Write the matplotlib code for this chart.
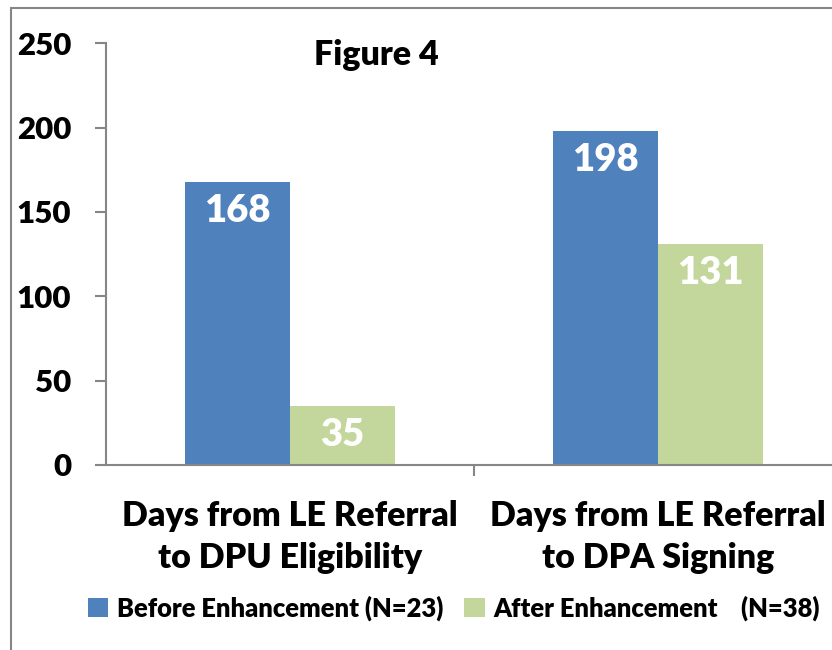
import matplotlib.pyplot as plt
import numpy as np
from matplotlib.patches import Rectangle

# --------------------------------
# Data
# --------------------------------
categories = ["Days from LE Referral\nto DPU Eligibility",
              "Days from LE Referral\nto DPA Signing"]
before = [168, 198]
after = [35, 131]
before_label = "Before Enhancement (N=23)"
after_label = "After Enhancement    (N=38)"
title = "Figure 4"

blue = "#4F81BD"
green = "#C3D69B"
gray = "#868686"

plt.rcParams["font.family"] = ["Lato", "DejaVu Sans"]
plt.rcParams["font.weight"] = "heavy"

W, H = 832, 650
fig = plt.figure(figsize=(W / 100, H / 100), dpi=100)

# axes box in pixels: left 106, bottom 465, top 43, right 842 (cropped)
ax = fig.add_axes([106 / W, (H - 465) / H, (842 - 106) / W, (465 - 43.3) / H])

x = np.arange(len(categories))
bw = 0.285
b1 = ax.bar(x - bw / 2, before, bw, color=blue, label=before_label)
b2 = ax.bar(x + bw / 2, after, bw, color=green, label=after_label)

for bars, vals in ((b1, before), (b2, after)):
    for r, v in zip(bars, vals):
        ax.annotate(str(v), (r.get_x() + r.get_width() / 2, v),
                    xytext=(0, -12), textcoords="offset pixels",
                    ha="center", va="top", color="white",
                    fontsize=27.5, fontweight="heavy")

ax.set_xlim(-0.5, 1.5)
ax.set_ylim(0, 250)
ax.set_yticks(range(0, 251, 50))
ax.tick_params(axis="y", length=8, width=1.5, color=gray, pad=17,
               labelsize=22.5)
for lab in ax.get_yticklabels():
    lab.set_fontweight("heavy")
ax.set_xticks([0.5])
ax.set_xticklabels([""])
ax.tick_params(axis="x", length=8, width=1.5, color=gray)

for s in ("top", "right"):
    ax.spines[s].set_visible(False)
for s in ("left", "bottom"):
    ax.spines[s].set_color(gray)
    ax.spines[s].set_linewidth(1.5)

for i, c in enumerate(categories):
    cx = ax.transData.transform((i, 0))[0] / W
    fig.text(cx, 1 - 537 / H, c, ha="center", va="center", fontsize=24.5,
             fontweight="heavy", linespacing=1.42)

fig.text(376 / W, 1 - 55 / H, title, ha="center", va="center",
         fontsize=24.5, fontweight="heavy")

fig.legend(loc="center", bbox_to_anchor=(454 / W, 1 - 608 / H), ncol=2,
           frameon=False, handlelength=0.8, handleheight=0.8,
           handletextpad=0.35, columnspacing=0.8,
           prop={"size": 18.4, "weight": "heavy"})

# outer frame (cropped on right and bottom)
fig.patches.append(Rectangle((11 / W, -0.1), 1.2, 1 - 8 / H + 0.1,
                             transform=fig.transFigure, fill=False,
                             edgecolor=gray, linewidth=1.5))

fig.savefig("out.png", dpi=100)
